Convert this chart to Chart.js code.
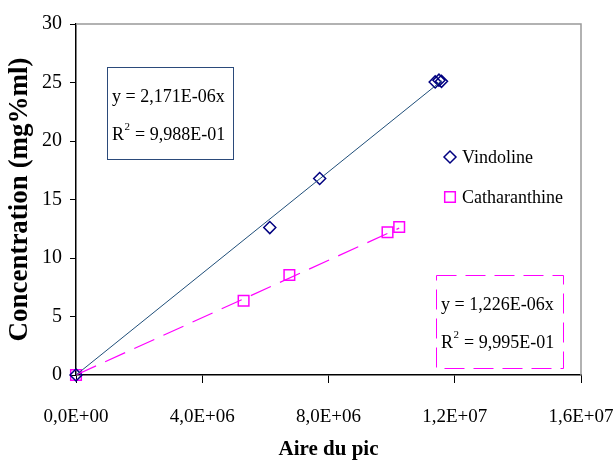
<!DOCTYPE html>
<html>
<head>
<meta charset="utf-8">
<script src="https://cdn.jsdelivr.net/npm/chart.js@4.4.1/dist/chart.umd.min.js"></script>
<style>
  html, body { margin: 0; padding: 0; background: #fff; }
  #wrap { width: 615px; height: 464px; }
</style>
</head>
<body>
<div id="wrap"><canvas id="chart" width="615" height="464"></canvas></div>
<script>
  // values (x = aire du pic, y = concentration)
  const vindolineX = [0, 6.14e6, 7.72e6, 11.38e6, 11.5e6, 11.58e6]
  const vindolineY = [0, 12.6, 16.8, 25.05, 25.2, 25.1]
  const cathX = [0, 5.31e6, 6.76e6, 9.87e6, 10.24e6]
  const cathY = [0, 6.35, 8.55, 12.2, 12.65]

  // trend line ends
  const vindolineTrendX = [0, 11.58e6]
  const vindolineTrendY = [0, 25.14]
  const cathTrendX = [0, 10.24e6]
  const cathTrendY = [0, 12.55]

  const seriesNames = ["Vindoline", "Catharanthine"]
  const equations = [
    ["y = 2,171E-06x", "9,988E-01"],
    ["y = 1,226E-06x", "9,995E-01"]
  ]

  const toPoints = (xs, ys) => xs.map((x, i) => ({x: x, y: ys[i]}))

  const SERIF = "'Liberation Serif', 'Times New Roman', serif"
  const NAVY = "#000080"
  const MAGENTA = "#ff00ff"

  // E notation with comma like the excel axis: 1,2E+07
  const sci = (v) => {
    if (v === 0) return "0,0E+00"
    const e = Math.floor(Math.log10(v) + 1e-9)
    const m = (v / Math.pow(10, e)).toFixed(1).replace(".", ",")
    return m + "E+" + String(e).padStart(2, "0")
  }

  const drawEq = (ctx, x, y, lines) => {
    ctx.font = "18px " + SERIF
    ctx.fillStyle = "#000"
    ctx.textBaseline = "middle"
    ctx.textAlign = "left"
    ctx.fillText(lines[0], x, y)
    const y2 = y + 38
    ctx.fillText("R", x, y2)
    let w = ctx.measureText("R").width
    ctx.font = "11px " + SERIF
    ctx.fillText("2", x + w + 0.5, y2 - 8)
    w += ctx.measureText("2").width + 1
    ctx.font = "18px " + SERIF
    ctx.fillText(" = " + lines[1], x + w, y2)
  }

  const extras = {
    id: "extras",
    afterDraw(chart) {
      const ctx = chart.ctx
      const a = chart.chartArea
      ctx.save()
      // grey frame top / right
      ctx.strokeStyle = "#999"
      ctx.lineWidth = 1.5
      ctx.beginPath()
      ctx.moveTo(a.left, a.top)
      ctx.lineTo(a.right, a.top)
      ctx.lineTo(a.right, a.bottom)
      ctx.stroke()

      // equation box vindoline
      ctx.strokeStyle = "#2b4a7a"
      ctx.lineWidth = 1
      ctx.strokeRect(107.5, 67.5, 126, 92)
      drawEq(ctx, 112, 97, equations[0])

      // equation box catharanthine (dashed)
      ctx.strokeStyle = MAGENTA
      ctx.setLineDash([20, 9])
      ctx.strokeRect(436.5, 275.5, 127, 93)
      ctx.setLineDash([])
      drawEq(ctx, 441, 305, equations[1])

      // legend
      const marks = [
        {style: "rectRot", r: 6, color: NAVY, y: 157},
        {style: "rect", r: 7.5, color: MAGENTA, y: 197}
      ]
      marks.forEach((m, i) => {
        ctx.lineWidth = 1.5
        ctx.strokeStyle = m.color
        ctx.fillStyle = "rgba(0,0,0,0)"
        Chart.helpers.drawPoint(ctx, {pointStyle: m.style, radius: m.r, borderWidth: 1.5}, 450, m.y)
        ctx.fillStyle = "#000"
        ctx.font = "18px " + SERIF
        ctx.textBaseline = "middle"
        ctx.textAlign = "left"
        ctx.fillText(seriesNames[i], 462, m.y + 1)
      })
      ctx.restore()
    }
  }

  const chart = new Chart(document.getElementById("chart"), {
    type: "scatter",
    data: {
      datasets: [
        {
          label: "trend vindoline",
          data: toPoints(vindolineTrendX, vindolineTrendY),
          showLine: true,
          borderColor: "#1f4e79",
          borderWidth: 1,
          pointRadius: 0,
          clip: false
        },
        {
          label: "trend catharanthine",
          data: toPoints(cathTrendX, cathTrendY),
          showLine: true,
          borderColor: MAGENTA,
          borderWidth: 1.2,
          borderDash: [22, 10],
          pointRadius: 0,
          clip: false
        },
        {
          label: seriesNames[0],
          data: toPoints(vindolineX, vindolineY),
          pointStyle: "rectRot",
          pointRadius: 6,
          borderColor: NAVY,
          backgroundColor: "rgba(0,0,0,0)",
          borderWidth: 1.5,
          clip: false
        },
        {
          label: seriesNames[1],
          data: toPoints(cathX, cathY),
          pointStyle: "rect",
          pointRadius: 7.5,
          borderColor: MAGENTA,
          backgroundColor: "rgba(0,0,0,0)",
          borderWidth: 1.5,
          clip: false
        }
      ]
    },
    options: {
      responsive: false,
      animation: false,
      events: [],
      layout: {padding: {top: 24, right: 34, left: 0, bottom: 0}},
      plugins: {
        legend: {display: false},
        tooltip: {enabled: false}
      },
      scales: {
        x: {
          type: "linear",
          min: 0,
          max: 1.6e7,
          afterFit: (s) => { s.height = 89; s.paddingLeft = 0; s.paddingRight = 0 },
          afterBuildTicks: (s) => {
            s.ticks = [0, 4e6, 8e6, 1.2e7, 1.6e7].map(v => ({value: v}))
          },
          ticks: {
            callback: (v) => sci(v),
            font: {family: SERIF, size: 19},
            color: "#000",
            padding: 23,
            maxRotation: 0
          },
          grid: {drawOnChartArea: false, color: "#000", tickLength: 8, lineWidth: 1},
          border: {color: "#000", width: 1.5},
          title: {
            display: true,
            text: "Aire du pic",
            font: {family: SERIF, size: 21, weight: "bold"},
            color: "#000",
            padding: {top: 0, bottom: 2}
          }
        },
        y: {
          min: 0,
          max: 30,
          afterFit: (s) => { s.width = 76; s.paddingTop = 0; s.paddingBottom = 0 },
          ticks: {
            stepSize: 5,
            font: {family: SERIF, size: 20},
            color: "#000",
            padding: 8
          },
          grid: {drawOnChartArea: false, color: "#000", tickLength: 6, lineWidth: 1},
          border: {color: "#000", width: 1.5},
          title: {
            display: true,
            text: "Concentration (mg%ml)",
            font: {family: SERIF, size: 27, weight: "bold"},
            color: "#000",
            padding: {top: 4, bottom: 0}
          }
        }
      }
    },
    plugins: [extras]
  })
</script>
</body>
</html>
